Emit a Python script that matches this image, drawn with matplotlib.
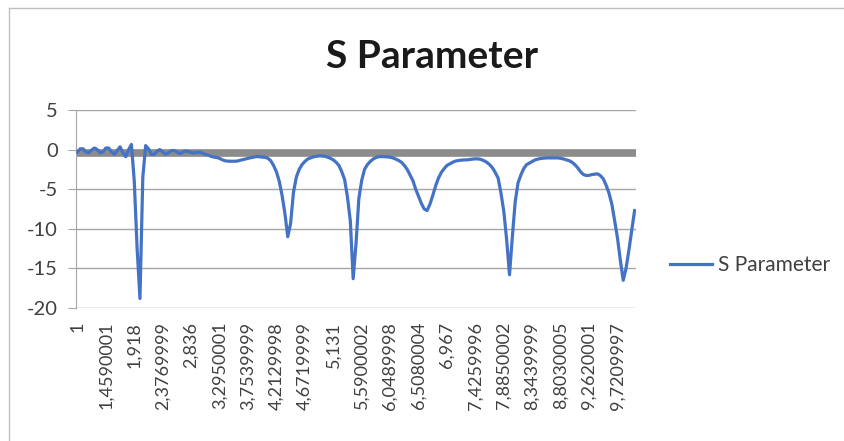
import numpy as np
import matplotlib
matplotlib.use("Agg")
import matplotlib.pyplot as plt
from matplotlib.lines import Line2D

# S parameter readings (dB), one per frequency step of 0.0459 starting at 1
s_param = [
    -0.3, 0.1, 0.1, -0.3, -0.4, -0.05, 0.2, 0.0, -0.4, -0.3,
    0.2, 0.2, -0.3, -0.6, -0.1, 0.35, -0.4, -0.9, 0.0, 0.65,
    -4.0, -12.5, -18.8, -3.5, 0.5, 0.1, -0.6, -0.6, -0.2, 0.0,
    -0.3, -0.6, -0.4, -0.15, -0.1, -0.3, -0.5, -0.35, -0.17, -0.25,
    -0.35, -0.42, -0.35, -0.3, -0.45, -0.6, -0.7, -0.85, -0.95, -1.0,
    -1.1, -1.3, -1.42, -1.46, -1.47, -1.47, -1.46, -1.38, -1.28, -1.2,
    -1.1, -1.02, -0.95, -0.88, -0.9, -0.95, -0.97, -1.1, -1.4, -2.0,
    -2.8, -4.0, -5.8, -8.1, -11.0, -9.3, -5.4, -3.5, -2.5, -1.9,
    -1.5, -1.2, -1.05, -0.92, -0.85, -0.8, -0.8, -0.85, -0.95, -1.1,
    -1.3, -1.6, -2.0, -2.8, -3.8, -6.0, -9.0, -16.3, -11.9, -6.2,
    -3.9, -2.5, -1.9, -1.5, -1.2, -1.0, -0.9, -0.88, -0.9, -0.92,
    -0.96, -1.05, -1.2, -1.38, -1.6, -2.0, -2.5, -3.2, -3.9, -5.0,
    -5.9, -6.8, -7.5, -7.7, -6.9, -5.8, -4.6, -3.6, -2.9, -2.4,
    -2.0, -1.8, -1.6, -1.45, -1.38, -1.33, -1.3, -1.3, -1.25, -1.2,
    -1.17, -1.17, -1.25, -1.4, -1.6, -1.9, -2.3, -2.9, -3.6, -5.5,
    -7.8, -11.4, -15.8, -11.0, -6.6, -4.2, -3.2, -2.4, -1.9, -1.7,
    -1.5, -1.3, -1.2, -1.12, -1.08, -1.05, -1.05, -1.04, -1.05, -1.05,
    -1.1, -1.18, -1.3, -1.4, -1.6, -1.9, -2.3, -2.8, -3.15, -3.27,
    -3.25, -3.15, -3.1, -3.06, -3.3, -3.7, -4.5, -5.5, -6.9, -9.0,
    -11.2, -14.0, -16.5, -15.0, -12.7, -10.2, -7.7,
]

# category labels shown on the axis (every 10th frequency step)
freq_labels = [
    "1", "1,4590001", "1,918", "2,3769999", "2,836", "3,2950001",
    "3,7539999", "4,2129998", "4,6719999", "5,131", "5,5900002",
    "6,0489998", "6,5080004", "6,967", "7,4259996", "7,8850002",
    "8,3439999", "8,8030005", "9,2620001", "9,7209997",
]
label_step = 10

y_ticks = [5, 0, -5, -10, -15, -20]

plt.rcParams['font.family'] = ['Lato', 'DejaVu Sans']

fig = plt.figure(figsize=(8.45, 4.41), dpi=100)
ax = fig.add_axes([76 / 845, 1 - 308 / 441, 560 / 845, 198 / 441])

x = np.arange(len(s_param))

# gridlines
for yt in y_ticks:
    ax.axhline(yt, color="#a6a6a6", lw=1, zorder=1)

# thick grey band just under zero
ax.axhline(-0.48, color="#8c8c8c", lw=5.5, zorder=2)

ax.plot(x, s_param, color="#4472C4", lw=2.3, zorder=3,
        solid_joinstyle="round", label="S Parameter")

ax.set_xlim(-0.5, len(s_param) - 0.5)
ax.set_ylim(-20, 5)
ax.set_yticks(y_ticks)
ax.set_yticklabels([str(v) for v in y_ticks])
ax.set_xticks(np.arange(len(freq_labels)) * label_step)
ax.set_xticklabels(freq_labels, rotation=90)

for side in ["top", "right", "bottom"]:
    ax.spines[side].set_visible(False)
ax.spines["left"].set_color("#a6a6a6")
ax.tick_params(axis="y", length=6, color="#a6a6a6", pad=7,
               labelsize=14.5, labelcolor="#404040")
ax.tick_params(axis="x", length=0, pad=10, labelsize=13, labelcolor="#404040")

fig.text(432 / 845, 1 - 56 / 441, "S Parameter", ha="center", va="center",
         fontsize=28, fontweight="bold", color="#1a1a1a")

leg = fig.legend(loc="center left", bbox_to_anchor=(670 / 845, 1 - 265 / 441),
                 frameon=False, fontsize=15, handlelength=2.0, borderpad=0,
                 borderaxespad=0, handletextpad=0.3, labelcolor="#404040")

# chart-area border
fig.add_artist(Line2D([9 / 845, 9 / 845], [0, 1 - 8 / 441],
                      transform=fig.transFigure, color="#bfbfbf", lw=1))
fig.add_artist(Line2D([9 / 845, 1], [1 - 8 / 441, 1 - 8 / 441],
                      transform=fig.transFigure, color="#bfbfbf", lw=1))

fig.savefig("out.png", dpi=100)
